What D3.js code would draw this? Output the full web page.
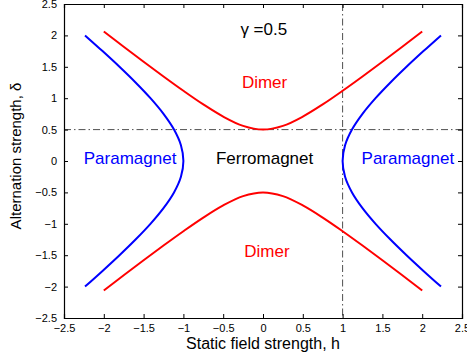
<!DOCTYPE html>
<html>
<head>
<meta charset="utf-8">
<script src="https://cdn.jsdelivr.net/npm/d3@7"></script>
<style>
  body { margin: 0; background: #fff; }
  text { font-family: "Liberation Sans", Arial, sans-serif; }
</style>
</head>
<body>
<div id="chart"></div>
<script>
// 1: DATA
const ticks = [-2.5, -2, -1.5, -1, -0.5, 0, 0.5, 1, 1.5, 2, 2.5];

// dimer boundary (red), h -> delta
const dimerH = [-2, -1.75, -1.5, -1.25, -1, -0.75, -0.5, -0.25, 0, 0.25, 0.5, 0.75, 1, 1.25, 1.5, 1.75, 2];
const dimerUpper = [2.062, 1.820, 1.581, 1.346, 1.118, 0.901, 0.707, 0.559, 0.5, 0.559, 0.707, 0.901, 1.118, 1.346, 1.581, 1.820, 2.062];
const dimerLower = [-2.062, -1.820, -1.581, -1.346, -1.118, -0.901, -0.707, -0.559, -0.5, -0.559, -0.707, -0.901, -1.118, -1.346, -1.581, -1.820, -2.062];

// paramagnet boundary (blue), delta -> h
const paraDelta = [-2, -1.75, -1.5, -1.25, -1, -0.75, -0.5, -0.25, 0, 0.25, 0.5, 0.75, 1, 1.25, 1.5, 1.75, 2];
const paraRight = [2.236, 2.016, 1.803, 1.601, 1.414, 1.25, 1.118, 1.031, 1, 1.031, 1.118, 1.25, 1.414, 1.601, 1.803, 2.016, 2.236];
const paraLeft = [-2.236, -2.016, -1.803, -1.601, -1.414, -1.25, -1.118, -1.031, -1, -1.031, -1.118, -1.25, -1.414, -1.601, -1.803, -2.016, -2.236];

const gammaValue = 0.5;
const regionLabels = [
  { text: "Dimer", h: 0.02, d: 1.25, color: "#ff0000" },
  { text: "Dimer", h: 0.05, d: -1.44, color: "#ff0000" },
  { text: "Paramagnet", h: -1.67, d: 0.04, color: "#0000ff" },
  { text: "Paramagnet", h: 1.82, d: 0.04, color: "#0000ff" },
  { text: "Ferromagnet", h: 0.02, d: 0.04, color: "#000000" }
];

// 2: SETUP
const W = 467, H = 360;
const margin = { top: 4, right: 5, bottom: 42, left: 64 };
const width = W - margin.left - margin.right;
const height = H - margin.top - margin.bottom;

const svg = d3.select("#chart").append("svg")
  .attr("width", W).attr("height", H)
  .append("g")
  .attr("transform", `translate(${margin.left},${margin.top})`);

const x = d3.scaleLinear().domain([-2.5, 2.5]).range([0, width]);
const y = d3.scaleLinear().domain([-2.5, 2.5]).range([height, 0]);
const fmt = d => d3.format("")(d).replace("-", "\u2212");

// 3: REFERENCE LINES (dash-dot)
svg.append("line")
  .attr("x1", 0).attr("x2", width)
  .attr("y1", y(gammaValue)).attr("y2", y(gammaValue))
  .attr("stroke", "#222").attr("stroke-width", 0.8)
  .attr("stroke-dasharray", "7,3,1.5,3");
svg.append("line")
  .attr("x1", x(1)).attr("x2", x(1))
  .attr("y1", 0).attr("y2", height)
  .attr("stroke", "#222").attr("stroke-width", 0.8)
  .attr("stroke-dasharray", "7,3,1.5,3");

// 4: CURVES
const line = d3.line().x(d => x(d[0])).y(d => y(d[1])).curve(d3.curveCatmullRom);
const curves = [
  { pts: dimerH.map((h, i) => [h, dimerUpper[i]]), color: "#ff0000" },
  { pts: dimerH.map((h, i) => [h, dimerLower[i]]), color: "#ff0000" },
  { pts: paraDelta.map((d, i) => [paraRight[i], d]), color: "#0000ff" },
  { pts: paraDelta.map((d, i) => [paraLeft[i], d]), color: "#0000ff" }
];
curves.forEach(c => {
  svg.append("path")
    .datum(c.pts)
    .attr("fill", "none")
    .attr("stroke", c.color)
    .attr("stroke-width", 2)
    .attr("d", line);
});

// 5: AXES (box with inward ticks)
const tickLen = 4;
svg.append("g").attr("transform", `translate(0,${height})`)
  .call(d3.axisBottom(x).tickValues(ticks).tickSize(-tickLen).tickPadding(6).tickFormat(fmt));
svg.append("g").attr("transform", `translate(0,0)`)
  .call(d3.axisTop(x).tickValues(ticks).tickSize(-tickLen).tickFormat(""));
svg.append("g")
  .call(d3.axisLeft(y).tickValues(ticks).tickSize(-tickLen).tickPadding(7).tickFormat(fmt));
svg.append("g").attr("transform", `translate(${width},0)`)
  .call(d3.axisRight(y).tickValues(ticks).tickSize(-tickLen).tickFormat(""));

svg.selectAll(".domain").attr("stroke", "#000").attr("stroke-width", 1.2);
svg.selectAll(".tick line").attr("stroke", "#000");
svg.selectAll(".tick text").attr("fill", "#000").style("font-size", "11px")
  .style("font-family", "'Liberation Sans', Arial, sans-serif");

// 6: TEXT
regionLabels.forEach(l => {
  svg.append("text")
    .attr("x", x(l.h)).attr("y", y(l.d))
    .attr("dy", "0.35em")
    .attr("text-anchor", "middle")
    .attr("fill", l.color)
    .style("font-size", "17px")
    .text(l.text);
});

svg.append("text")
  .attr("x", x(0.01)).attr("y", 31)
  .attr("text-anchor", "middle")
  .style("font-size", "17px")
  .text("\u03b3 =" + gammaValue);

svg.append("text")
  .attr("x", width / 2).attr("y", height + 31)
  .attr("text-anchor", "middle")
  .style("font-size", "16px")
  .text("Static field strength, h");

svg.append("text")
  .attr("transform", "rotate(-90)")
  .attr("x", -152).attr("y", -43)
  .attr("text-anchor", "middle")
  .style("font-size", "15px")
  .text("Alternation strength, \u03b4");
</script>
</body>
</html>
